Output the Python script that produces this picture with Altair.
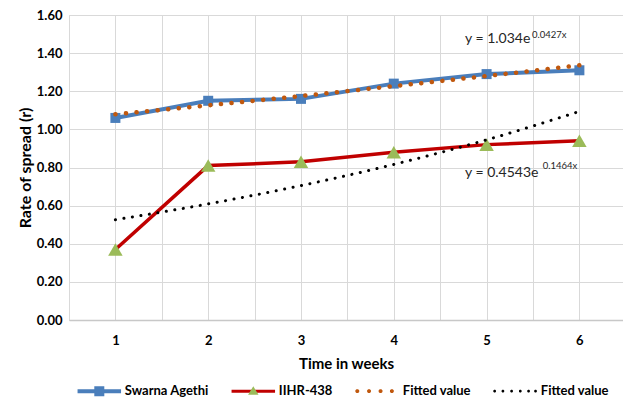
import math
import altair as alt
import pandas as pd

# ---------------- data ----------------
weeks = [1, 2, 3, 4, 5, 6]
swarna = [1.06, 1.15, 1.16, 1.24, 1.29, 1.31]
iihr = [0.37, 0.81, 0.83, 0.88, 0.92, 0.94]
fit_swarna = [1.079, 1.126, 1.175, 1.227, 1.280, 1.336]
fit_iihr = [0.526, 0.609, 0.705, 0.816, 0.945, 1.094]

series_names = ["Swarna Agethi", "IIHR-438", "Fitted value", "Fitted value "]
line_colors = ["#4a7ebb", "#c00000", "#c0580e", "#000000"]
marker_colors = ["#4a7ebb", "#9bbb59", "#c0580e", "#000000"]

eq_main = ["y = 1.034e", "y = 0.4543e"]
eq_sup = ["0.0427x", "0.1464x"]
eq_x = [4.767, 4.767]
eq_y = [1.451, 0.752]
sup_x = [5.49, 5.605]
sup_y = [1.477, 0.791]

x_grid = [0.5, 1, 1.5, 2, 2.5, 3, 3.5, 4, 4.5, 5, 5.5, 6, 6.5]
y_ticks = [0, 0.2, 0.4, 0.6, 0.8, 1.0, 1.2, 1.4, 1.6]

FONT = "Lato"

# ---------------- legend symbol paths (unit coords) ----------------
def rect(x0, x1, y0, y1):
    return f"M{x0},{y0}H{x1}V{y1}H{x0}Z"

def octagon(cx, cy, r):
    pts = []
    for k in range(8):
        a = math.pi / 8 + k * math.pi / 4
        pts.append(f"{cx + r * math.cos(a):.4f},{cy + r * math.sin(a):.4f}")
    return "M" + "L".join(pts) + "Z"

BOUNDS = "M-1,-0.4ZM1,0.4Z"
line_paths = [
    BOUNDS + rect(-1, 1, -0.092, 0.092),
    BOUNDS + rect(-1, 1, -0.07, 0.07),
    BOUNDS + "".join(octagon(c, 0, 0.095) for c in [-0.92, -0.38, 0.15, 0.67]),
    BOUNDS + "".join(octagon(c, 0, 0.066) for c in [-0.95, -0.57, -0.17, 0.23, 0.61, 0.93]),
]
marker_paths = [
    BOUNDS + rect(-0.23, 0.23, -0.23, 0.23),
    BOUNDS + "M0,-0.22L0.24,0.17L-0.24,0.17Z",
    BOUNDS,
    BOUNDS,
]

# ---------------- tables ----------------
df = pd.DataFrame({"x": weeks, "swarna": swarna, "iihr": iihr,
                   "fs": fit_swarna, "fi": fit_iihr})
leg_df = pd.DataFrame({"series": series_names, "x": [1] * 4, "y": [0] * 4})
eq_df = pd.DataFrame({"x": eq_x, "y": eq_y, "t": eq_main})
sup_df = pd.DataFrame({"x": sup_x, "y": sup_y, "t": eq_sup})

xscale = alt.Scale(domain=[0.5, 6.47], nice=False, zero=False)
yscale = alt.Scale(domain=[0, 1.6], nice=False)

xaxis = alt.Axis(values=x_grid,
                 labelExpr="datum.value % 1 == 0 ? format(datum.value, 'd') : ''",
                 title="Time in weeks", grid=True, gridColor="#d9d9d9", ticks=False, tickSize=0,
                 domain=True, domainColor="#c8c8c8", domainWidth=1.5,
                 labelFont=FONT, labelFontSize=13, labelFontWeight="bold", labelColor="#000000",
                 labelPadding=14, titleFont=FONT, titleFontSize=15, titleFontWeight="bold",
                 titleColor="#000000", titlePadding=9)
yaxis = alt.Axis(values=y_ticks, format=".2f", title="Rate of spread (r)", grid=True,
                 gridColor="#d9d9d9", ticks=False, tickSize=0, domain=False,
                 labelFont=FONT, labelFontSize=13, labelFontWeight="bold", labelColor="#000000",
                 labelPadding=7, titleFont=FONT, titleFontSize=16, titleFontWeight="bold",
                 titleColor="#000000", titlePadding=3)


def X(field="x"):
    return alt.X(f"{field}:Q", scale=xscale, axis=xaxis)


def Y(field):
    return alt.Y(f"{field}:Q", scale=yscale, axis=yaxis)


base = alt.Chart(df)
blue_line = base.mark_line(color=line_colors[0], strokeWidth=4).encode(x=X(), y=Y("swarna"))
blue_pts = base.mark_point(shape="square", filled=True, size=100, opacity=1,
                           color=marker_colors[0]).encode(x=X(), y=Y("swarna"))
red_line = base.mark_line(color=line_colors[1], strokeWidth=3.5).encode(x=X(), y=Y("iihr"))
red_pts = base.mark_point(shape="triangle-up", filled=True, size=210, opacity=1,
                          color=marker_colors[1]).encode(x=X(), y=Y("iihr"))
fit1 = base.mark_line(color=line_colors[2], strokeWidth=4.5, strokeDash=[0.1, 10.5],
                      strokeCap="round", interpolate="monotone").encode(x=X(), y=Y("fs"))
fit2 = base.mark_line(color=line_colors[3], strokeWidth=3, strokeDash=[0.1, 8.5],
                      strokeCap="round", interpolate="monotone").encode(x=X(), y=Y("fi"))

eq_text = alt.Chart(eq_df).mark_text(align="left", baseline="alphabetic", font=FONT,
                                     fontSize=14, color="#262626").encode(x=X(), y=Y("y"), text="t:N")
sup_text = alt.Chart(sup_df).mark_text(align="left", baseline="alphabetic", font=FONT,
                                       fontSize=9.5, color="#262626").encode(x=X(), y=Y("y"), text="t:N")


def legend_props():
    return dict(orient="none", legendX=8.3, legendY=354, direction="horizontal", columns=4,
                symbolSize=1892, symbolStrokeWidth=0, labelOffset=3.5, columnPadding=22,
                padding=0, title=None, labelFont=FONT, labelFontSize=13, labelFontWeight="bold",
                labelColor="#000000", labelExpr="trim(datum.label)", symbolOpacity=1)


def legend_layer(paths, colors, label_color):
    props = legend_props()
    props["labelColor"] = label_color
    lg = alt.Legend(**props)
    return alt.Chart(leg_df).transform_filter("false").mark_point(
        filled=True, opacity=1, strokeWidth=0).encode(
        x=X(), y=Y("y"),
        color=alt.Color("series:N", sort=None,
                        scale=alt.Scale(domain=series_names, range=colors), legend=lg),
        shape=alt.Shape("series:N", sort=None,
                        scale=alt.Scale(domain=series_names, range=paths), legend=lg),
    )


leg_lines = legend_layer(line_paths, line_colors, "#000000")
leg_marks = legend_layer(marker_paths, marker_colors, "transparent")

chart = alt.layer(
    blue_line, blue_pts, red_line, red_pts, fit1, fit2, eq_text, sup_text, leg_lines, leg_marks
).resolve_scale(color="independent", shape="independent").properties(
    width=554, height=305,
    padding={"left": 69, "top": 15, "right": 0, "bottom": 84},
    autosize=alt.AutoSizeParams(type="none"),
).configure_view(stroke=None).configure(background="white")

chart.save("out.html", embed_options={"renderer": "svg", "actions": False})
